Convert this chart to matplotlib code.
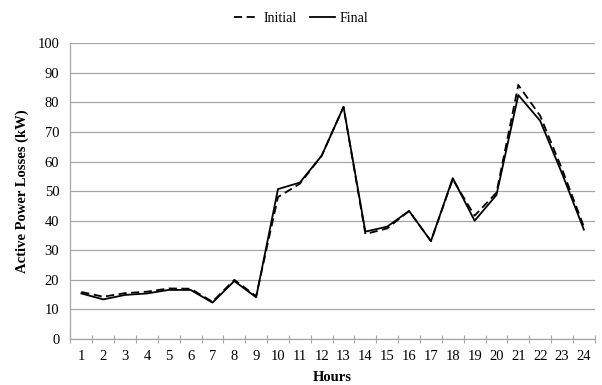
import matplotlib
matplotlib.use("Agg")
import matplotlib.pyplot as plt
import numpy as np

# hourly active power losses (kW)
hours = list(range(1, 25))
initial = [15.9, 14.3, 15.5, 16.0, 17.1, 17.0, 12.6, 20.0, 14.5, 48.0, 52.5, 62.0,
           78.5, 35.5, 37.4, 43.3, 33.1, 54.0, 41.7, 49.5, 85.9, 75.5, 57.5, 38.0]
final = [15.4, 13.4, 14.9, 15.4, 16.6, 16.6, 12.3, 19.6, 14.1, 50.7, 52.9, 62.0,
         78.5, 36.3, 38.0, 43.3, 33.1, 54.4, 40.0, 48.7, 82.5, 73.8, 56.0, 37.0]
y_ticks = list(range(0, 101, 10))

plt.rcParams['font.family'] = ['Liberation Serif', 'DejaVu Serif']

fig = plt.figure(figsize=(6.02, 3.85), dpi=100)
ax = fig.add_axes([0.117, 0.1195, 0.871, 0.768])

grid_col = '#a6a6a6'
ax.plot(hours, initial, color='black', lw=1.3, dashes=(4.5, 2.5), label='Initial')
ax.plot(hours, final, color='black', lw=1.3, label='Final')

ax.set_xlim(0.5, 24.5)
ax.set_ylim(0, 100)
ax.set_yticks(y_ticks)
ax.set_xticks(hours)
ax.set_xticks(np.arange(0.5, 25, 1), minor=True)
ax.tick_params(axis='x', which='major', length=0, pad=8, labelsize=10.5)
ax.tick_params(axis='x', which='minor', direction='inout', length=6, color=grid_col, width=0.8)
ax.tick_params(axis='y', length=0, pad=8, labelsize=10.5)

ax.grid(axis='y', color=grid_col, lw=0.9)
ax.set_axisbelow(True)
for side in ['top', 'right']:
    ax.spines[side].set_visible(False)
for side in ['left', 'bottom']:
    ax.spines[side].set_color(grid_col)
    ax.spines[side].set_linewidth(0.9)

ax.set_xlabel('Hours', fontsize=10.5, fontweight='bold', labelpad=5.5)
ax.set_ylabel('Active Power Losses (kW)', fontsize=10.5, fontweight='bold', labelpad=6)

fig.legend(loc='center', bbox_to_anchor=(0.5, 0.952), ncol=2, frameon=False,
           fontsize=10, handlelength=1.8, handletextpad=0.3, columnspacing=1.0)

fig.savefig('out.png', dpi=100)
